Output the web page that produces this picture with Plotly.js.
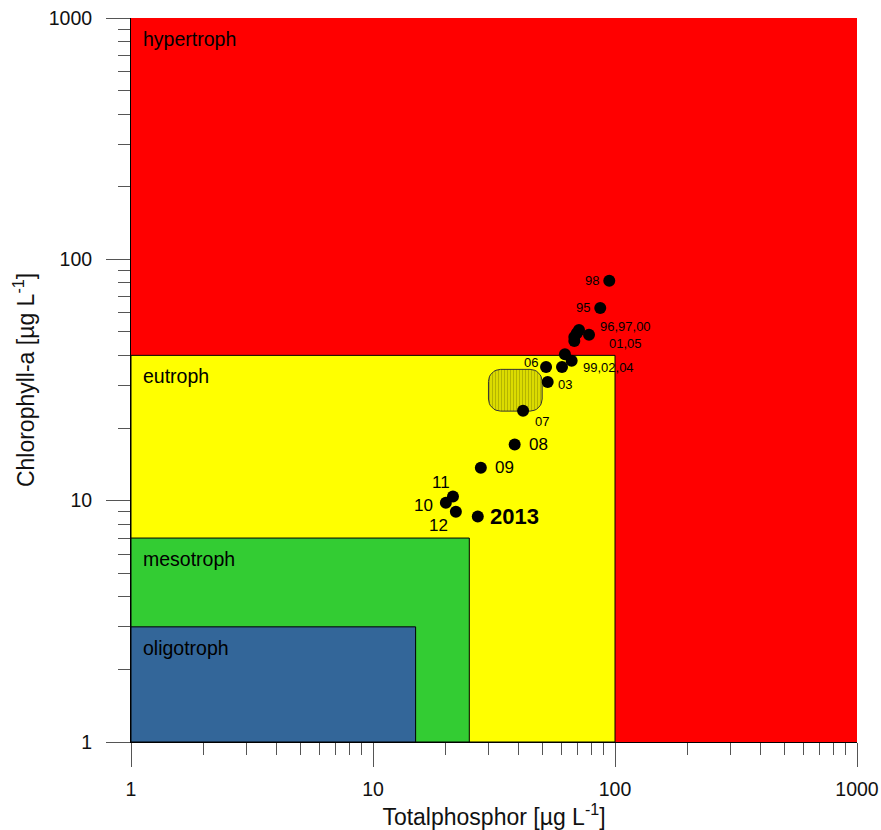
<!DOCTYPE html>
<html><head><meta charset="utf-8">
<script src="https://cdn.plot.ly/plotly-3.0.1.min.js"></script>
<style>body{margin:0;background:#fff}</style>
</head><body><div id="chart" style="width:881px;height:830px"></div>
<script>
// ---- data ----
const pointYear = ['98','95','96','97','00','01','05','99','04','02','06','03','07','08','09','11','10','12','2013'];
const pointTP   = [94.7, 86.9, 71.0, 69.5, 67.9, 67.9, 78.1, 62.1, 60.4, 66.2, 51.9, 52.7, 41.7, 38.5, 27.9, 21.4, 20.0, 22.0, 27.1];
const pointChl  = [81.6, 62.9, 51.0, 49.4, 47.7, 45.9, 48.7, 40.4, 35.8, 38.0, 35.8, 31.0, 23.6, 17.1, 13.7, 10.4, 9.8, 9.0, 8.6];
const pointLabel = ['98','95','','','','','96,97,00<br>01,05','','','99,02,04','06','03','07','08','09','11','10','12','2013'];

const zoneNames  = ['hypertroph','eutroph','mesotroph','oligotroph'];
const zoneTPmax  = [1000, 100, 25, 15];
const zoneChlMax = [1000, 40, 7, 3];
const axisMin = 1, axisMax = 1000;

const refRangeTP  = [30, 50];
const refRangeChl = [23.5, 35];

const xTickVals = [1, 10, 100, 1000];
const yTickVals = [1, 10, 100, 1000];

// ---- styles ----
const FONT = 'Liberation Sans, Arial, sans-serif';
const zoneColors = ['#ff0000', '#ffff00', '#33cc33', '#336699'];
const zoneLines  = [0, 1, 1, 1];
const labelStyle = {
  '98':       {size: 13, xanchor: 'right',  xshift: -8,  yshift: 0},
  '95':       {size: 13, xanchor: 'right',  xshift: -8,  yshift: 0},
  '96,97,00<br>01,05': {size: 13, xanchor: 'center', xshift: 36, yshift: 0},
  '99,02,04': {size: 13, xanchor: 'left',   xshift: 9,   yshift: -7},
  '06':       {size: 13, xanchor: 'right',  xshift: -6,  yshift: 5},
  '03':       {size: 13, xanchor: 'left',   xshift: 8,   yshift: -2},
  '07':       {size: 13, xanchor: 'left',   xshift: 10,  yshift: -11},
  '08':       {size: 17, xanchor: 'left',   xshift: 12,  yshift: 0},
  '09':       {size: 17, xanchor: 'left',   xshift: 12,  yshift: 0},
  '11':       {size: 17, xanchor: 'center', xshift: -12, yshift: 14},
  '10':       {size: 17, xanchor: 'right',  xshift: -11, yshift: -3},
  '12':       {size: 17, xanchor: 'center', xshift: -17, yshift: -14},
  '2013':     {size: 22, xanchor: 'left',   xshift: 10,  yshift: 0, bold: true}
};

// rounded rectangle outline in log space (corner radius in decades)
function roundedRect(xr, yr, r) {
  const lx0 = Math.log10(xr[0]), lx1 = Math.log10(xr[1]);
  const ly0 = Math.log10(yr[0]), ly1 = Math.log10(yr[1]);
  const corners = [[lx1 - r, ly1 - r, 0], [lx0 + r, ly1 - r, 90], [lx0 + r, ly0 + r, 180], [lx1 - r, ly0 + r, 270]];
  const xs = [], ys = [];
  corners.forEach(([cx, cy, a0]) => {
    for (let k = 0; k <= 8; k++) {
      const a = (a0 + k * 90 / 8) * Math.PI / 180;
      xs.push(Math.pow(10, cx + r * Math.cos(a)));
      ys.push(Math.pow(10, cy + r * Math.sin(a)));
    }
  });
  xs.push(xs[0]); ys.push(ys[0]);
  return {xs, ys};
}

const shapes = zoneNames.map((n, i) => ({
  type: 'rect', xref: 'x', yref: 'y', layer: 'below',
  x0: axisMin, x1: zoneTPmax[i], y0: axisMin, y1: zoneChlMax[i],
  fillcolor: zoneColors[i],
  line: {color: '#000', width: zoneLines[i]}
}));

const annotations = [];
zoneNames.forEach((n, i) => {
  annotations.push({
    x: Math.log10(axisMin), y: Math.log10(zoneChlMax[i]), xref: 'x', yref: 'y',
    text: n, showarrow: false, xanchor: 'left', yanchor: 'middle',
    xshift: 10, yshift: -21, font: {family: FONT, size: 19.5, color: '#000'}
  });
});
pointLabel.forEach((t, i) => {
  if (!t) return;
  const s = labelStyle[t];
  annotations.push({
    x: Math.log10(pointTP[i]), y: Math.log10(pointChl[i]), xref: 'x', yref: 'y',
    text: s.bold ? '<b>' + t + '</b>' : t, showarrow: false,
    xanchor: s.xanchor, yanchor: 'middle', align: 'center',
    xshift: s.xshift, yshift: s.yshift,
    font: {family: FONT, size: s.size, color: '#000'}
  });
});

const rr = roundedRect(refRangeTP, refRangeChl, 0.05);

const traces = [
  {
    x: rr.xs, y: rr.ys, type: 'scatter', mode: 'lines', fill: 'toself',
    line: {color: '#333', width: 1},
    fillcolor: '#d8d800',
    fillpattern: {shape: '|', bgcolor: '#e8e800', fgcolor: '#b4b400', size: 3, solidity: 0.5},
    hoverinfo: 'skip', showlegend: false
  },
  {
    x: pointTP, y: pointChl, text: pointYear, type: 'scatter', mode: 'markers',
    marker: {color: '#000', size: 12},
    showlegend: false, hovertemplate: '%{text}: TP %{x}, Chl %{y}<extra></extra>'
  }
];

const axisCommon = {
  type: 'log', range: [0, 3], showgrid: false, zeroline: false,
  showline: true, linecolor: '#000', linewidth: 1, mirror: false,
  ticks: 'outside', ticklen: 24, tickwidth: 1, tickcolor: '#555',
  tickfont: {family: FONT, size: 19.5, color: '#111'},
  tickmode: 'array',
  minor: {ticks: 'outside', ticklen: 12, tickwidth: 1, tickcolor: '#555', dtick: 'D1', showgrid: false}
};

const layout = {
  width: 881, height: 830,
  margin: {l: 131, r: 24, t: 18, b: 88},
  paper_bgcolor: '#fff', plot_bgcolor: '#fff',
  font: {family: FONT, color: '#111'},
  xaxis: Object.assign({}, axisCommon, {
    tickvals: xTickVals, ticktext: xTickVals.map(String),
    ticklabelstandoff: 6,
    title: {text: 'Totalphosphor [µg L<sup>-1</sup>]', font: {family: FONT, size: 23, color: '#111'}, standoff: 1}
  }),
  yaxis: Object.assign({}, axisCommon, {
    tickvals: yTickVals, ticktext: yTickVals.map(String),
    ticklabelstandoff: 10,
    title: {text: 'Chlorophyll-a [µg L<sup>-1</sup>]', font: {family: FONT, size: 23, color: '#111'}, standoff: 7}
  }),
  shapes: shapes,
  annotations: annotations
};

Plotly.newPlot('chart', traces, layout, {displayModeBar: false, staticPlot: true});
</script>
</body></html>
